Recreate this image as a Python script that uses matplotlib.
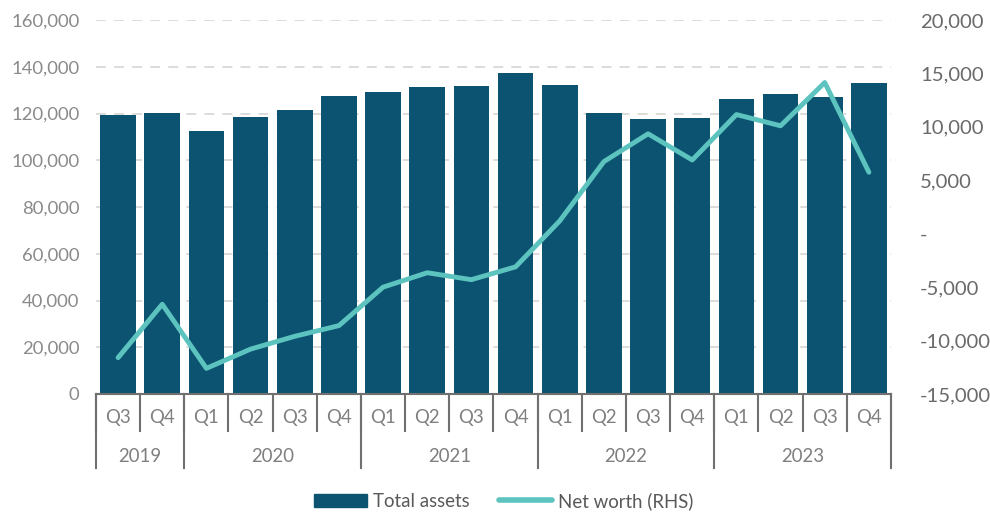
import numpy as np
import matplotlib
matplotlib.use("Agg")
from matplotlib import pyplot as plt
from matplotlib.patches import Patch
from matplotlib.lines import Line2D
from matplotlib.ticker import FuncFormatter

plt.rcParams['font.family'] = ['Lato', 'DejaVu Sans']

# data
quarters = ['Q3', 'Q4',
            'Q1', 'Q2', 'Q3', 'Q4',
            'Q1', 'Q2', 'Q3', 'Q4',
            'Q1', 'Q2', 'Q3', 'Q4',
            'Q1', 'Q2', 'Q3', 'Q4']
years = ['2019', '2020', '2021', '2022', '2023']
year_counts = [2, 4, 4, 4, 4]
total_assets = [119300, 120300, 112700, 118600, 121400, 127300,
                129000, 131200, 131900, 137300,
                132300, 120200, 117600, 118100,
                126300, 128500, 126900, 132900]
net_worth = [-11600, -6600, -12600, -10800, -9600, -8600,
             -5000, -3650, -4300, -3100,
             1200, 6750, 9350, 6900,
             11150, 10100, 14150, 5750]

bar_col = '#0c5371'
line_col = '#5cc3bf'
sep_col = '#707070'

fig = plt.figure(figsize=(9.9, 5.14), dpi=100)
ax = fig.add_axes([96 / 990, 120 / 514, 795 / 990, 374 / 514])
x = np.arange(len(quarters))

# bars - total assets (LHS)
ax.bar(x, total_assets, width=0.81, color=bar_col, zorder=2)
ax.set_xlim(-0.5, len(quarters) - 0.5)
ax.set_ylim(0, 160000)
ax.set_yticks(np.arange(0, 160001, 20000))
ax.yaxis.set_major_formatter(FuncFormatter(lambda v, p: f'{v:,.0f}'))
ax.set_axisbelow(True)
ax.grid(axis='y', color='#d9d9d9', lw=1.3, linestyle=(0, (5.5, 4.5)), zorder=0)
ax.set_xticks([])
for s in ['top', 'right', 'left']:
    ax.spines[s].set_visible(False)
ax.spines['bottom'].set_color(sep_col)
ax.spines['bottom'].set_linewidth(1.5)
ax.tick_params(axis='y', length=0, pad=12, labelsize=13.3, labelcolor='#8a8a8a')

# line - net worth (RHS)
ax2 = ax.twinx()
ax2.plot(x, net_worth, color=line_col, lw=3.5, solid_capstyle='round', zorder=3)
ax2.set_ylim(-15000, 20000)
ax2.set_yticks(np.arange(-15000, 20001, 5000))


def rhs_fmt(v, p):
    if v == 0:
        return '-'
    return f'{v:,.0f}'


ax2.yaxis.set_major_formatter(FuncFormatter(rhs_fmt))
for s in ax2.spines:
    ax2.spines[s].set_visible(False)
ax2.tick_params(axis='y', length=0, pad=21, labelsize=14.6, labelcolor='#6a6a6a')

# two level category axis
trans = ax.get_xaxis_transform()
for i, q in enumerate(quarters):
    ax.text(i, -0.064, q, transform=trans, ha='center', va='center',
            fontsize=13.4, color='#7f7f7f')
for i in range(len(quarters) + 1):
    ax.plot([i - 0.5, i - 0.5], [0, -0.099], transform=trans, clip_on=False,
            color=sep_col, lw=1.5)

start = 0
for yr, n in zip(years, year_counts):
    ax.plot([start - 0.5, start - 0.5], [0, -0.198], transform=trans, clip_on=False,
            color=sep_col, lw=1.5)
    ax.text(start + (n - 1) / 2, -0.166, yr, transform=trans, ha='center', va='center',
            fontsize=13.4, color='#7f7f7f')
    start += n
ax.plot([start - 0.5, start - 0.5], [0, -0.198], transform=trans, clip_on=False,
        color=sep_col, lw=1.5)

# legend
handles = [Patch(color=bar_col, label='Total assets'),
           Line2D([], [], color=line_col, lw=4, solid_capstyle='round', label='Net worth (RHS)')]
fig.legend(handles=handles, loc='center', bbox_to_anchor=(0.509, 13 / 514), ncol=2,
           frameon=False, fontsize=13.4, handlelength=2.8, handletextpad=0.35,
           columnspacing=1.6, labelcolor='#595959')

fig.savefig('out.png', dpi=100)
